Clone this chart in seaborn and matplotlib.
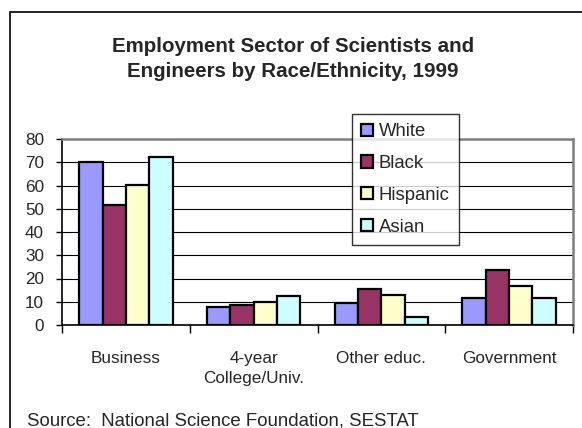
import matplotlib
matplotlib.use("Agg")
import matplotlib.pyplot as plt
import seaborn as sns
import pandas as pd
from matplotlib.patches import Rectangle

sectors = ["Business", "4-year\nCollege/Univ.", "Other educ.", "Government"]
races = ["White", "Black", "Hispanic", "Asian"]
white = [70.0, 7.8, 9.5, 11.8]
black = [51.5, 8.8, 15.5, 23.6]
hispanic = [60.2, 9.8, 12.9, 16.7]
asian = [72.4, 12.4, 3.6, 11.4]
colors = ["#9999FF", "#993366", "#FFFFCC", "#CCFFFF"]
yticks = [0, 10, 20, 30, 40, 50, 60, 70, 80]
title1 = "Employment Sector of Scientists and"
title2 = "Engineers by Race/Ethnicity, 1999"
source = "Source:  National Science Foundation, SESTAT"

rows = []
for race, vals in zip(races, [white, black, hispanic, asian]):
    for s, v in zip(sectors, vals):
        rows.append({"sector": s, "race": race, "value": v})
df = pd.DataFrame(rows)

sns.set_theme(style="white")
plt.rcParams["font.family"] = ["Liberation Sans", "DejaVu Sans"]

W, H = 582, 428
fig = plt.figure(figsize=(W / 100, H / 100), dpi=100)
ax = fig.add_axes([62 / W, 1 - 325 / H, (573 - 62) / W, (325 - 139) / H])

sns.barplot(data=df, x="sector", y="value", hue="race", order=sectors,
            hue_order=races, palette=dict(zip(races, colors)), saturation=1,
            width=0.73, gap=0, edgecolor="black", linewidth=1.6,
            errorbar=None, ax=ax, zorder=3)

ax.set_ylim(0, 80)
ax.set_xlim(-0.5, len(sectors) - 0.5)
ax.set_yticks(yticks)
ax.set_yticklabels([str(t) for t in yticks], fontsize=12.3)
ax.yaxis.grid(True, color="black", linewidth=0.8, zorder=0)
ax.xaxis.grid(False)
ax.set_axisbelow(True)
ax.set_xlabel("")
ax.set_ylabel("")

ax.tick_params(axis="y", which="major", left=True, length=4, width=1,
               color="black", pad=9, direction="out")
ax.tick_params(axis="x", which="major", bottom=True, length=0, pad=19,
               labelsize=12.3)
ax.set_xticks([i - 0.5 for i in range(len(sectors) + 1)], minor=True)
ax.tick_params(axis="x", which="minor", bottom=True, length=6, width=1,
               color="black", direction="out")
for lab in ax.get_xticklabels():
    lab.set_linespacing(1.35)

for side in ["left", "bottom"]:
    ax.spines[side].set_color("black")
    ax.spines[side].set_linewidth(1.2)
for side in ["top", "right"]:
    ax.spines[side].set_color("#808080")
    ax.spines[side].set_linewidth(1.8)

handles, labels = ax.get_legend_handles_labels()
if ax.legend_:
    ax.legend_.remove()
leg = fig.legend(handles, labels, loc="upper left",
                 bbox_to_anchor=(352 / W, 1 - 114 / H),
                 bbox_transform=fig.transFigure, borderaxespad=0,
                 fontsize=13.3, frameon=True, fancybox=False, shadow=False,
                 handlelength=0.65, handleheight=0.65, handletextpad=0.3,
                 labelspacing=0.8, borderpad=0.5)
leg.get_frame().set_edgecolor("black")
leg.get_frame().set_linewidth(1.0)
leg.get_frame().set_facecolor("white")

fig.text(293 / W, 1 - 52 / H, title1, ha="center", va="baseline",
         fontsize=14.8, fontweight="bold")
fig.text(293 / W, 1 - 77 / H, title2, ha="center", va="baseline",
         fontsize=14.8, fontweight="bold")
fig.text(27 / W, 1 - 425 / H, source, ha="left", va="baseline", fontsize=13.4)

fig.patches.append(Rectangle((10.5 / W, 0 - 0.05), 1.2, 1 - 12 / H + 0.05,
                             transform=fig.transFigure, fill=False,
                             edgecolor="black", linewidth=1.2))

fig.savefig("out.png", dpi=100)
